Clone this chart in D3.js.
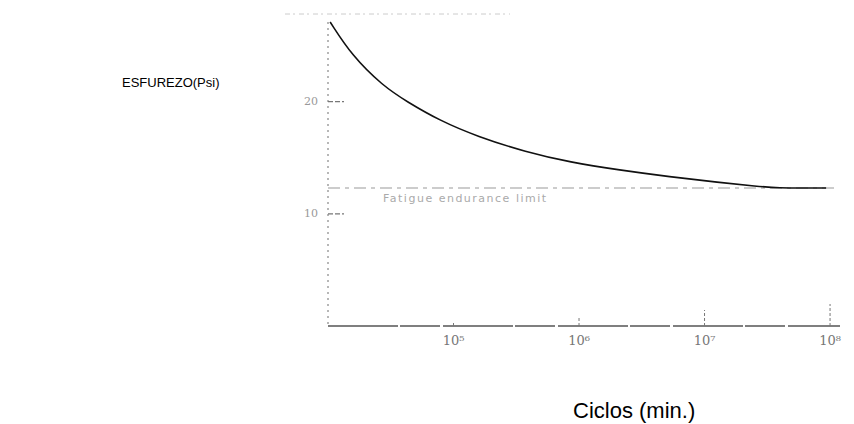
<!DOCTYPE html>
<html>
<head>
<meta charset="utf-8">
<script src="https://cdn.jsdelivr.net/npm/d3@7"></script>
<style>
  body { margin: 0; background: #fff; }
  svg { display: block; }
</style>
</head>
<body>
<svg width="854" height="424"></svg>
<script>
// S-N curve (cycles, stress)
var cycles = [1.04e4, 1.55e4, 2.74e4, 4.25e4, 7.8e4, 1.54e5, 3.8e5, 8.5e5, 2.1e6, 5.3e6, 1.3e7, 2.6e7, 4e7, 6e7, 9.3e7];
var stress = [27.1, 24.1, 21.4, 20.0, 18.3, 16.9, 15.5, 14.6, 13.9, 13.3, 12.8, 12.45, 12.3, 12.3, 12.3];
var xTicks = [1e5, 1e6, 1e7, 1e8];
var xTickLabels = ["10\u2075", "10\u2076", "10\u2077", "10\u2078"];
var yTicks = [20, 10];
var yTickLabels = ["20", "10"];
var enduranceLimit = 12.3;
var enduranceLabel = "Fatigue endurance limit";

var svg = d3.select("svg");

var x = d3.scaleLog().domain([1e4, 1.2e8]).range([328, 840]);
var y = d3.scaleLinear().domain([0, 27.1]).range([326, 22]);

// faint scan line at the top
svg.append("line")
    .attr("x1", 285).attr("x2", 510).attr("y1", 14).attr("y2", 14)
    .attr("stroke", "#ccc").attr("stroke-width", 1)
    .attr("stroke-dasharray", "5,3,2,4");

// y axis (dotted, as scanned)
svg.append("line")
    .attr("x1", x(1e4)).attr("x2", x(1e4))
    .attr("y1", y(27.1)).attr("y2", y(0))
    .attr("stroke", "#888").attr("stroke-width", 1.2)
    .attr("stroke-dasharray", "2,4");

// y ticks
var yt = svg.selectAll(".ytick")
    .data(yTicks)
    .enter().append("g")
    .attr("class", "ytick")
    .attr("transform", function(d) { return "translate(" + x(1e4) + "," + y(d) + ")"; });
yt.append("line")
    .attr("x1", 0).attr("x2", 16)
    .attr("stroke", "#777").attr("stroke-width", 1.2)
    .attr("stroke-dasharray", "5,2");
yt.append("text")
    .attr("x", -10).attr("y", 0)
    .attr("text-anchor", "end")
    .attr("dominant-baseline", "middle")
    .attr("font-family", "DejaVu Serif")
    .attr("font-size", 11)
    .attr("fill", "#999")
    .text(function(d, i) { return yTickLabels[i]; });

// x axis
svg.append("line")
    .attr("x1", x(1e4)).attr("x2", x(1.2e8))
    .attr("y1", y(0)).attr("y2", y(0))
    .attr("stroke", "#555").attr("stroke-width", 1.3)
    .attr("stroke-dasharray", "70,2,40,3");

var xt = svg.selectAll(".xtick")
    .data(xTicks)
    .enter().append("g")
    .attr("class", "xtick")
    .attr("transform", function(d) { return "translate(" + x(d) + "," + y(0) + ")"; });
xt.append("line")
    .attr("y1", 0).attr("y2", function(d, i) { return [-4, -10, -16, -22][i]; })
    .attr("stroke", "#777").attr("stroke-width", 1)
    .attr("stroke-dasharray", "3,2");
xt.append("text")
    .attr("y", 19)
    .attr("text-anchor", "middle")
    .attr("font-family", "DejaVu Serif")
    .attr("font-size", 13)
    .attr("fill", "#777")
    .text(function(d, i) { return xTickLabels[i]; });

// endurance limit
svg.append("line")
    .attr("x1", x(1e4)).attr("x2", x(1.1e8))
    .attr("y1", y(enduranceLimit)).attr("y2", y(enduranceLimit))
    .attr("stroke", "#999").attr("stroke-width", 1.2)
    .attr("stroke-dasharray", "12,5,4,5");
svg.append("text")
    .attr("x", 383).attr("y", y(enduranceLimit) + 14)
    .attr("font-family", "DejaVu Sans")
    .attr("font-size", 11)
    .attr("letter-spacing", 1.5)
    .attr("fill", "#aaa")
    .text(enduranceLabel);

// curve
var line = d3.line()
    .x(function(d) { return x(d[0]); })
    .y(function(d) { return y(d[1]); })
    .curve(d3.curveBasis);

svg.append("path")
    .datum(d3.zip(cycles, stress))
    .attr("d", line)
    .attr("fill", "none")
    .attr("stroke", "#111")
    .attr("stroke-width", 1.6);

// titles
svg.append("text")
    .attr("x", 122).attr("y", 87)
    .attr("font-family", "Liberation Sans")
    .attr("font-size", 13)
    .attr("fill", "#000")
    .text("ESFUREZO(Psi)");

svg.append("text")
    .attr("x", 573).attr("y", 418)
    .attr("font-family", "Liberation Sans")
    .attr("font-size", 22)
    .attr("fill", "#000")
    .text("Ciclos (min.)");
</script>
</body>
</html>
